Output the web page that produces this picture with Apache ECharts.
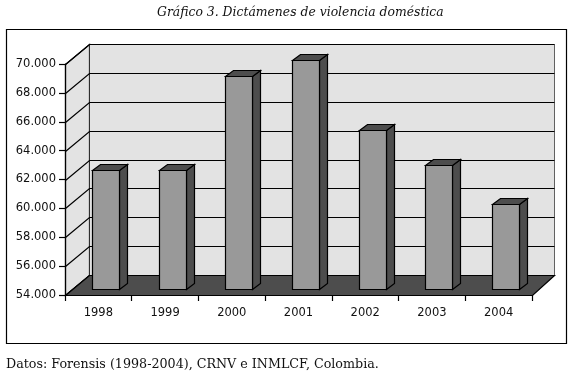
<!DOCTYPE html>
<html><head><meta charset="utf-8">
<style>html,body{margin:0;padding:0;background:#fff}#c{width:574px;height:377px}</style>
<script src="https://cdn.jsdelivr.net/npm/echarts@6/dist/echarts.min.js"></script>
</head><body><div id="c"></div>
<script>
const years = ['1998','1999','2000','2001','2002','2003','2004'];
const dictamenes = [62250,62250,68750,69880,65000,62600,59900];
const wallTicks = [54000,56000,58000,60000,62000,64000,66000,68000,70000];
const titleText = 'Gráfico 3. Dictámenes de violencia doméstica';
const sourceText = 'Datos: Forensis (1998-2004), CRNV e INMLCF, Colombia.';

const DX = 24, DY = -20;       // depth of the chart box
const BW = 27, BDX = 8, BDY = -6, BSHIFT = 7; // bar size, depth and shift from floor front
const serif = '"DejaVu Serif"', sans = '"DejaVu Sans"';
const ls = {stroke:'#000', lineWidth:1.2};

const chart = echarts.init(document.getElementById('c'), null, {renderer:'canvas'});
chart.setOption({
  animation:false,
  backgroundColor:'#fff',
  title:[
    {text:titleText,left:157,top:7,padding:0,textStyle:{fontFamily:serif,fontStyle:'italic',fontWeight:'normal',fontSize:12.4,color:'#111'}},
    {text:sourceText,left:6,top:358,padding:0,textStyle:{fontFamily:serif,fontWeight:'normal',fontSize:12.7,color:'#111'}}
  ],
  graphic:[{type:'rect',z:-1,shape:{x:6.5,y:29.5,width:560,height:314},style:{fill:'#fff',stroke:'#000',lineWidth:1.2}}],
  grid:{left:65,top:64,width:467,height:231,containLabel:false},
  xAxis:{type:'category',data:years,z:5,
    axisLine:{show:true,lineStyle:{color:'#000',width:1.2}},
    axisTick:{show:true,alignWithLabel:false,length:6,lineStyle:{color:'#000',width:1.2}},
    axisLabel:{margin:12,fontFamily:sans,fontSize:11.5,color:'#111',interval:0},
    splitLine:{show:false}},
  yAxis:{type:'value',min:54000,max:70000,interval:2000,z:5,
    axisLine:{show:true,lineStyle:{color:'#000',width:1.2}},
    axisTick:{show:true,length:6,lineStyle:{color:'#000',width:1.2}},
    axisLabel:{margin:9,padding:[3,0,0,0],fontFamily:sans,fontSize:11.5,color:'#111',
      formatter:v=>String(v).replace(/(\d)(\d{3})$/,'$1.$2')},
    splitLine:{show:false}},
  series:[
    {type:'custom',name:'walls',silent:true,z:1,clip:false,
     data:wallTicks.map(v=>[0,v]),
     renderItem(params,api){
       const c=params.coordSys, y=Math.round(api.coord([0,api.value(1)])[1])+.5;
       const l=c.x+.5, r=c.x+c.width+.5;
       const kids=[];
       if(params.dataIndex===0){
         const t=c.y+.5, b=c.y+c.height+.5;
         kids.push({type:'polygon',shape:{points:[[l,b],[l,t],[l+DX,t+DY],[l+DX,b+DY]]},style:{fill:'#e3e3e3',...ls}});
         kids.push({type:'rect',shape:{x:l+DX,y:t+DY,width:r-l-2,height:c.height},style:{fill:'#e3e3e3',stroke:'#000',lineWidth:0.6}});
       }
       kids.push({type:'polyline',shape:{points:[[l,y],[l+DX,y+DY],[r+22,y+DY]]},style:{fill:null,...ls}});
       if(params.dataIndex===0){
         kids.push({type:'polygon',shape:{points:[[l,y],[l+DX,y+DY],[r+22,y+DY],[r,y]]},style:{fill:'#4d4d4d',...ls}});
       }
       return {type:'group',children:kids};
     }},
    {type:'custom',name:'Dictámenes',z:2,clip:false,
     data:dictamenes.map((v,i)=>[i,v]),
     renderItem(params,api){
       const p=api.coord([api.value(0),api.value(1)]), base=api.coord([api.value(0),54000]);
       const x=Math.round(p[0]+BSHIFT-BW/2)+.5, t=Math.round(p[1]+BDY)+.5, b=Math.round(base[1]+BDY)+.5;
       const xr=x+BW;
       return {type:'group',children:[
         {type:'polygon',shape:{points:[[xr,t],[xr+BDX,t+BDY],[xr+BDX,b+BDY],[xr,b]]},style:{fill:'#4d4d4d',...ls}},
         {type:'polygon',shape:{points:[[x,t],[x+BDX,t+BDY],[xr+BDX,t+BDY],[xr,t]]},style:{fill:'#4d4d4d',...ls}},
         {type:'rect',shape:{x:x,y:t,width:BW,height:b-t},style:{fill:'#999999',...ls}}
       ]};
     }}
  ]
});
</script></body></html>
